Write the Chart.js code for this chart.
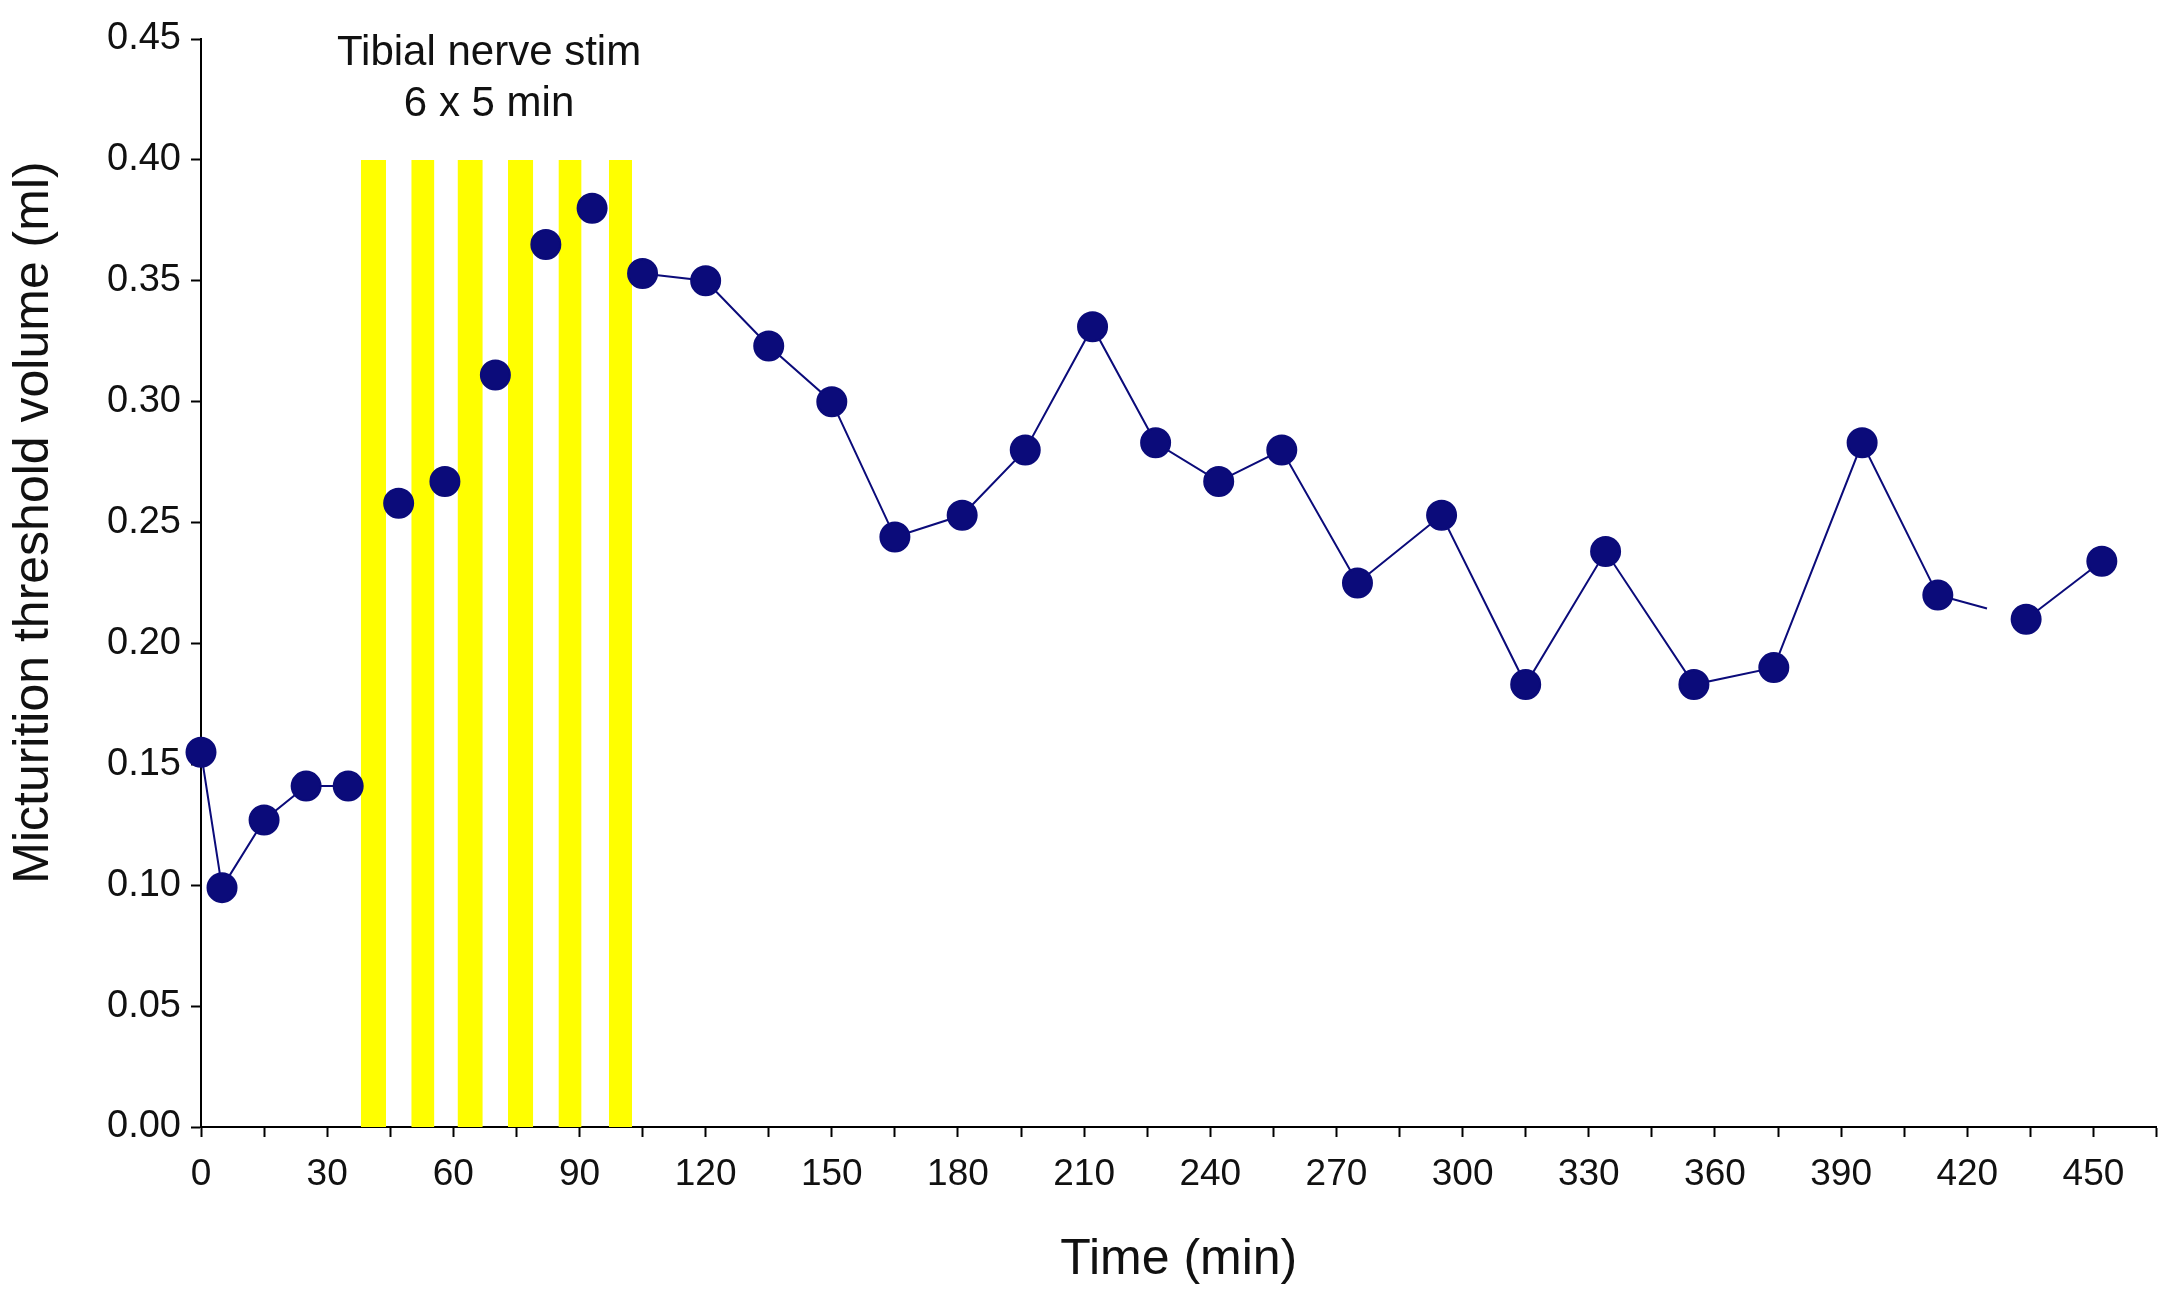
<!DOCTYPE html>
<html>
<head>
<meta charset="utf-8">
<script src="https://cdn.jsdelivr.net/npm/chart.js@4.4.1/dist/chart.umd.min.js"></script>
<style>
  html, body { margin: 0; padding: 0; background: #fff; }
  #wrap { width: 2173px; height: 1294px; }
</style>
</head>
<body>
<div id="wrap"><canvas id="myChart" width="2173" height="1294"></canvas></div>
<script>
// datos
const timeMin = [0, 5, 15, 25, 35, 47, 58, 70, 82, 93, 105, 120, 135, 150, 165, 181, 196, 212, 227, 242, 257, 275, 295, 315, 334, 355, 374, 395, 413, 434, 452];
const volumeMl = [0.155, 0.099, 0.127, 0.141, 0.141, 0.258, 0.267, 0.311, 0.365, 0.380, 0.353, 0.350, 0.323, 0.300, 0.244, 0.253, 0.280, 0.331, 0.283, 0.267, 0.280, 0.225, 0.253, 0.183, 0.238, 0.183, 0.190, 0.283, 0.220, 0.210, 0.234];

// periodos de estimulación (6 x 5 min)
const stimStart = [38, 50, 61, 73, 85, 97];
const stimEnd = [44, 55.5, 67, 79, 90.5, 102.5];
const stimTop = 0.40;

// marcas del eje x (cada 15 min, etiqueta cada 30)
const xTickValues = [0, 15, 30, 45, 60, 75, 90, 105, 120, 135, 150, 165, 180, 195, 210, 225, 240, 255, 270, 285, 300, 315, 330, 345, 360, 375, 390, 405, 420, 435, 450, 465];
const xTicksMajor = 30;
const yTickLabels = ['0.00', '0.05', '0.10', '0.15', '0.20', '0.25', '0.30', '0.35', '0.40', '0.45'];

const noteLines = ['Tibial nerve stim', '6 x 5 min'];
const noteX = 68.5;
const noteY = [0.444, 0.423];

const yTitle = 'Micturition threshold volume (ml)';

const FONT = "'Liberation Sans', Arial, sans-serif";
const navy = '#0b0b7a';

const data = timeMin.map((t, i) => ({ x: t, y: volumeMl[i] }));

const stimSets = stimStart.map((s, i) => ({
  type: 'line',
  data: [{ x: s, y: stimTop }, { x: stimEnd[i], y: stimTop }],
  borderWidth: 0,
  pointRadius: 0,
  backgroundColor: '#ffff00',
  fill: 'origin',
  order: 5
}));

// texto de la anotación y título del eje y
const notePlugin = {
  id: 'note',
  afterDraw(chart) {
    const c = chart.ctx;
    const xs = chart.scales.x, ys = chart.scales.y;
    c.save();
    c.fillStyle = '#111';
    c.font = '42px ' + FONT;
    c.textAlign = 'center';
    c.textBaseline = 'middle';
    noteLines.forEach((txt, i) => {
      c.fillText(txt, xs.getPixelForValue(noteX), ys.getPixelForValue(noteY[i]));
    });
    c.font = '50px ' + FONT;
    c.translate(34, ys.getPixelForValue(0.25));
    c.rotate(-Math.PI / 2);
    c.fillText(yTitle, 0, 0);
    c.restore();
  }
};

const ctx = document.getElementById('myChart').getContext('2d');
const myChart = new Chart(ctx, {
  type: 'line',
  data: {
    datasets: [
      {
        data: data,
        borderColor: navy,
        borderWidth: 2,
        backgroundColor: navy,
        pointBackgroundColor: navy,
        pointBorderColor: navy,
        pointRadius: 14.5,
        pointHoverRadius: 14.5,
        fill: false,
        clip: false,
        order: 1,
        segment: {
          // sin línea durante la estimulación
          borderColor: c => (c.p0DataIndex >= 4 && c.p0DataIndex <= 9) ? 'rgba(0,0,0,0)' : undefined,
          borderDash: c => c.p0DataIndex === 28 ? [51, 2000] : undefined
        }
      },
      ...stimSets
    ]
  },
  options: {
    responsive: false,
    animation: false,
    layout: { padding: { top: 39, right: 4, bottom: 0, left: 8 } },
    plugins: { legend: { display: false }, tooltip: { enabled: false } },
    scales: {
      x: {
        type: 'linear',
        min: 0,
        max: 465,
        afterFit: s => { s.height = 167; },
        afterBuildTicks: s => { s.ticks = xTickValues.map(v => ({ value: v })); },
        border: { display: true, color: '#000', width: 2 },
        grid: { drawOnChartArea: false, drawTicks: true, tickLength: 10, tickWidth: 2, color: '#000' },
        ticks: {
          autoSkip: false,
          maxRotation: 0,
          padding: 16,
          color: '#111',
          font: { family: FONT, size: 37 },
          callback: v => (v % xTicksMajor === 0 && v < 465 ? String(v) : '')
        },
        title: {
          display: true,
          text: 'Time (min)',
          color: '#111',
          font: { family: FONT, size: 50 },
          padding: { top: 0, bottom: 4 }
        }
      },
      y: {
        min: 0,
        max: 0.45,
        afterFit: s => { s.width = 193; },
        border: { display: true, color: '#000', width: 2 },
        grid: { drawOnChartArea: false, drawTicks: true, tickLength: 10, tickWidth: 2, color: '#000' },
        ticks: {
          stepSize: 0.05,
          padding: 10,
          color: '#111',
          font: { family: FONT, size: 38 },
          callback: (v, i) => yTickLabels[i]
        },
        title: { display: false }
      }
    }
  },
  plugins: [notePlugin]
});
</script>
</body>
</html>
